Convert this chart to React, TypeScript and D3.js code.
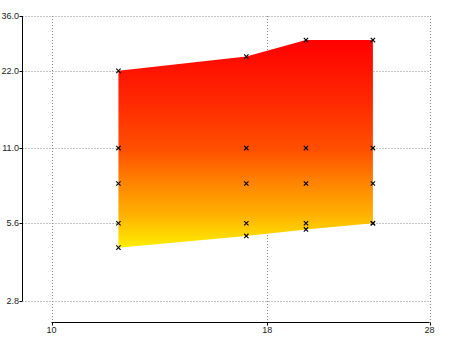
import * as d3 from 'd3';

// x 位置
const xValues = [12, 17, 20, 24];
// 每列的数据点
const highValues = [22, 25, 29, 29];
const midA = [11, 11, 11, 11];
const midB = [8, 8, 8, 8];
const midC = [5.6, 5.6, 5.6, 5.6];
const lowValues = [4.5, 5.0, 5.3, 5.6];

const xTicks = [10, 18, 28];
const yTicks = [2.8, 5.6, 11, 22, 36];

function App(){
	const W = 450
		, H = 337
		, x = d3.scaleLog().domain([10, 28]).range([51.5, 429.5])
		, y = d3.scaleLog().domain([2.8, 36]).range([300.5, 16])
		, axisX = 22.5
		, axisY = 322.5
		, gridRight = 430
		, rows = xValues.map((v, i)=>({x: v, hi: highValues[i], lo: lowValues[i]}))
		, area = d3.area<{x: number; hi: number; lo: number}>()
			.x(d=>x(d.x))
			.y0(d=>y(d.lo))
			.y1(d=>y(d.hi))
		, points: [number, number][] = []
		, cross = d3.symbol().type(d3.symbolX).size(14)()
		, font = 'Liberation Sans, Arial, sans-serif'
		;

	[highValues, midA, midB, midC, lowValues].forEach(s=>{
		s.forEach((v, i)=>{
			if( v !== undefined ) points.push([xValues[i], v]);
		});
	});

	return (<svg width={W} height={H} style={{position: 'absolute', left: 0, top: 0, background: '#fff'}}>
		<defs>
			<linearGradient id="fillGrad" x1="0" y1="0" x2="0" y2="1">
				<stop offset="0" stopColor="#ff0000"/>
				<stop offset="0.29" stopColor="#ff2800"/>
				<stop offset="0.53" stopColor="#ff5000"/>
				<stop offset="0.70" stopColor="#ff8800"/>
				<stop offset="0.84" stopColor="#ffb000"/>
				<stop offset="1" stopColor="#ffee00"/>
			</linearGradient>
		</defs>

		{/* 网格 */}
		{yTicks.map(t=>(<line key={'gy'+t}
			x1={axisX} x2={gridRight} y1={Math.round(y(t)) + 0.5} y2={Math.round(y(t)) + 0.5}
			stroke="#888" strokeDasharray="1,2"/>))}
		{xTicks.map(t=>(<line key={'gx'+t}
			x1={Math.round(x(t)) + 0.5} x2={Math.round(x(t)) + 0.5} y1={16} y2={axisY}
			stroke="#888" strokeDasharray="1,2"/>))}

		{/* 区域 */}
		<path d={area(rows) || ''} fill="url(#fillGrad)"/>

		{/* 数据点 */}
		{points.map((p, i)=>(<path key={i} d={cross || ''}
			transform={`translate(${x(p[0])},${y(p[1])})`}
			stroke="#000" strokeWidth={1.1} fill="none"/>))}

		{/* y 轴 */}
		<line x1={axisX} x2={axisX} y1={16} y2={y(2.8) + 0.5} stroke="#000"/>
		{yTicks.map(t=>(<g key={'ty'+t}>
			<line x1={axisX - 3} x2={axisX} y1={Math.round(y(t)) + 0.5} y2={Math.round(y(t)) + 0.5} stroke="#000"/>
			<text x={19} y={y(t)} dy="0.35em" textAnchor="end" fontSize={9} fontFamily={font} fill="#222">{d3.format('.1f')(t)}</text>
		</g>))}

		{/* x 轴 */}
		<line x1={x(10)} x2={x(28)} y1={axisY} y2={axisY} stroke="#000"/>
		{xTicks.map(t=>(<g key={'tx'+t}>
			<line x1={Math.round(x(t)) + 0.5} x2={Math.round(x(t)) + 0.5} y1={axisY} y2={axisY + 3} stroke="#000"/>
			<text x={x(t)} y={333} textAnchor="middle" fontSize={9} fontFamily={font} fill="#222">{t}</text>
		</g>))}
	</svg>);
}

export default App;
